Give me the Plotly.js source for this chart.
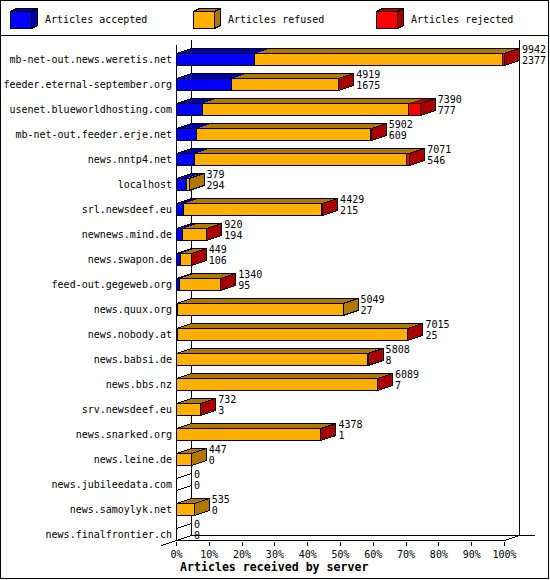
<!DOCTYPE html>
<html><head><meta charset="utf-8">
<script src="https://cdn.plot.ly/plotly-3.0.1.min.js"></script>
<style>html,body{margin:0;padding:0;background:#fff}#g{width:550px;height:580px}#g path{shape-rendering:crispEdges}</style>
</head><body><div id="g"></div>
<script>
const servers = ["mb-net-out.news.weretis.net","feeder.eternal-september.org","usenet.blueworldhosting.com","mb-net-out.feeder.erje.net","news.nntp4.net","localhost","srl.newsdeef.eu","newnews.mind.de","news.swapon.de","feed-out.gegeweb.org","news.quux.org","news.nobody.at","news.babsi.de","news.bbs.nz","srv.newsdeef.eu","news.snarked.org","news.leine.de","news.jubileedata.com","news.samoylyk.net","news.finalfrontier.ch"];
const offered  = [9942,4919,7390,5902,7071,379,4429,920,449,1340,5049,7015,5808,6089,732,4378,447,0,535,0];
const accepted = [2377,1675,777,609,546,294,215,194,106,95,27,25,8,7,3,1,0,0,0,0];
const refused  = [7495,3229,6250,5278,6439,85,4194,721,340,1242,5022,6980,5795,6077,726,4374,447,0,535,0];
const rejected = [70,15,363,15,86,0,20,5,3,3,0,10,5,5,3,3,0,0,0,0];
const percentTicks = [0,10,20,30,40,50,60,70,80,90,100];
const legendNames = ["Articles accepted","Articles refused","Articles rejected"];
const frontColors = ["#0000ff","#ffaf00","#ff0000"];
const darkColors  = ["#0000aa","#b07800","#aa0000"];

const FONT = "'DejaVu Sans Mono', monospace";
const PX_L=176, PX_R=535, PX_T=36, PX_B=541;
const SCALE = 9942/328;           // articles per pixel
const DX = 15*SCALE, DY = 5/25, H = 6/25;
const xMin = -0.5*SCALE, xMax = xMin+(PX_R-PX_L)*SCALE;
const rowPx0 = 59.5;
const yBottom = (PX_B-rowPx0)/25, yTop = (PX_T-rowPx0)/25;
const yFloor = (540.5-rowPx0)/25;
const paperX = p => (p-PX_L)/(PX_R-PX_L);
const paperY = p => (PX_B-p)/(PX_B-PX_T);

const series = [accepted,refused,rejected];
const traces = [];
function poly(name,color,xs,ys){
  traces.push({type:'scatter',mode:'lines',name:name,x:xs,y:ys,fill:'toself',fillcolor:color,
    line:{width:0,color:color},hoverinfo:'skip',showlegend:false,cliponaxis:false});
}
// walls
const wx=[0,0,null,DX,DX,null,9942+DX,9942+DX,null,0,DX,null,0,9942,9942+DX,null,DX,xMax];
const wy=[yTop+0.36,yFloor,null,yTop+0.16,yFloor-DY,null,yTop+0.16,yFloor-DY,null,yFloor,yFloor-DY,null,yFloor,yFloor,yFloor-DY,null,yFloor-DY,yFloor-DY];
traces.push({type:'scatter',mode:'lines',name:'walls',x:wx,y:wy,line:{color:'#000',width:1},hoverinfo:'skip',showlegend:false,cliponaxis:false});

// faces
series.forEach((vals,k)=>{
  const tx=[],ty=[],sx=[],sy=[],fx=[],fy=[];
  vals.forEach((v,i)=>{
    if(v<=0) return;
    let x0=0; for(let j=0;j<k;j++) x0+=series[j][i];
    const x1=x0+v;
    tx.push(x0,x1,x1+DX,x0+DX,x0,null);
    ty.push(i-H,i-H,i-H-DY,i-H-DY,i-H,null);
    fx.push(x0,x1,x1,x0,x0,null);
    fy.push(i-H,i-H,i+H,i+H,i-H,null);
    let later=0; for(let j=k+1;j<3;j++) later+=series[j][i];
    if(later===0){
      sx.push(x1,x1+DX,x1+DX,x1,x1,null);
      sy.push(i-H,i-H-DY,i+H-DY,i+H,i-H,null);
    }
  });
  poly(legendNames[k]+' top',darkColors[k],tx,ty);
  poly(legendNames[k]+' side',darkColors[k],sx,sy);
  poly(legendNames[k],frontColors[k],fx,fy);
});
// outlines
const ox=[],oy=[];
servers.forEach((s,i)=>{
  const T=accepted[i]+refused[i]+rejected[i];
  if(T===0){
    ox.push(0,DX,null,0,DX,null);
    oy.push(i-H,i-H-DY,null,i+H,i+H-DY,null);
    return;
  }
  ox.push(0,DX,T+DX,T,null, T,T+DX,T+DX,T,T,null);
  oy.push(i-H,i-H-DY,i-H-DY,i-H,null, i-H,i-H-DY,i+H-DY,i+H,i-H,null);
  let c=0;
  series.forEach(vals=>{
    if(vals[i]>0){ ox.push(c,c+vals[i],c+vals[i],c,c,null); oy.push(i-H,i-H,i+H,i+H,i-H,null); c+=vals[i]; }
  });
});
traces.push({type:'scatter',mode:'lines',name:'outline',x:ox,y:oy,line:{color:'#000',width:1},hoverinfo:'skip',showlegend:false,cliponaxis:false});
// value labels
const labelX = servers.map((s,i)=>accepted[i]+refused[i]+rejected[i]+DX+2.5*SCALE);
const idx = servers.map((s,i)=>i);
traces.push({type:'scatter',mode:'text',name:'offered',x:labelX,y:idx.map(i=>i-0.36),text:offered.map(String),textposition:'middle right',
  textfont:{family:FONT,size:10,color:'#000'},cliponaxis:false,hoverinfo:'skip',showlegend:false});
traces.push({type:'scatter',mode:'text',name:'accepted',x:labelX,y:idx.map(i=>i+0.08),text:accepted.map(String),textposition:'middle right',
  textfont:{family:FONT,size:10,color:'#000'},cliponaxis:false,hoverinfo:'skip',showlegend:false});

// frame and legend
const shapes=[];
const rect=(a,b,c,d,lw)=>({type:'rect',xref:'paper',yref:'paper',x0:paperX(a),x1:paperX(c),y0:paperY(b),y1:paperY(d),line:{color:'#000',width:lw}});
shapes.push(rect(0.5,0.5,548.5,578.5,1.5));
shapes.push({type:'line',xref:'paper',yref:'paper',x0:paperX(0),x1:paperX(548),y0:paperY(35.5),y1:paperY(35.5),line:{color:'#000',width:1}});
// floor stub left of the front axis
shapes.push({type:'line',xref:'paper',yref:'paper',x0:paperX(161.5),x1:paperX(176.5),y0:paperY(545.5),y1:paperY(540.5),line:{color:'#000',width:1}});
const legendX=[10.5,193.5,376.5], legendTextX=[43.5,226.5,409.5];
const annotations=[];
function pathOf(pts){return 'M'+pts.map(p=>paperX(p[0])+','+paperY(p[1])).join('L')+'Z';}
legendNames.forEach((n,k)=>{
  const x=legendX[k], w=21, y=11.5, h=17, dx=6, dy=3;
  shapes.push({type:'path',xref:'paper',yref:'paper',path:pathOf([[x,y],[x+w,y],[x+w+dx,y-dy],[x+dx,y-dy]]),fillcolor:darkColors[k],line:{color:'#000',width:1}});
  shapes.push({type:'path',xref:'paper',yref:'paper',path:pathOf([[x+w,y],[x+w+dx,y-dy],[x+w+dx,y+h-dy],[x+w,y+h]]),fillcolor:darkColors[k],line:{color:'#000',width:1}});
  shapes.push({type:'path',xref:'paper',yref:'paper',path:pathOf([[x,y],[x+w,y],[x+w,y+h],[x,y+h]]),fillcolor:frontColors[k],line:{color:'#000',width:1}});
  annotations.push({xref:'paper',yref:'paper',x:paperX(legendTextX[k]),y:paperY(20),xanchor:'left',yanchor:'middle',showarrow:false,text:n,font:{family:FONT,size:10,color:'#000'},borderpad:0});
});
annotations.push({xref:'paper',yref:'paper',x:paperX(273.5),y:paperY(566.5),xanchor:'center',yanchor:'middle',showarrow:false,text:'<b>Articles received by server</b>',font:{family:FONT,size:11.6,color:'#000'},borderpad:0});

const layout={
  width:550,height:580,paper_bgcolor:'#fff',plot_bgcolor:'#fff',showlegend:false,
  margin:{l:PX_L,r:550-PX_R,t:PX_T,b:580-PX_B,pad:0},
  font:{family:FONT,size:10,color:'#000'},
  xaxis:{range:[xMin,xMax],tickmode:'array',tickvals:percentTicks.map(p=>p/100*9942),ticktext:percentTicks.map(p=>p+'%'),
    ticks:'outside',ticklen:4,tickcolor:'#000',tickwidth:1,showgrid:false,zeroline:false,showline:false,tickfont:{family:FONT,size:10,color:'#000'},tickangle:0},
  yaxis:{range:[yBottom,yTop],tickmode:'array',tickvals:idx,ticktext:servers,ticks:'outside',ticklen:1,tickcolor:'rgba(0,0,0,0)',
    showgrid:false,zeroline:false,showline:false,tickfont:{family:FONT,size:10,color:'#000'},automargin:false},
  shapes:shapes,annotations:annotations
};
Plotly.newPlot('g',traces,layout,{displayModeBar:false,staticPlot:true});
</script></body></html>
